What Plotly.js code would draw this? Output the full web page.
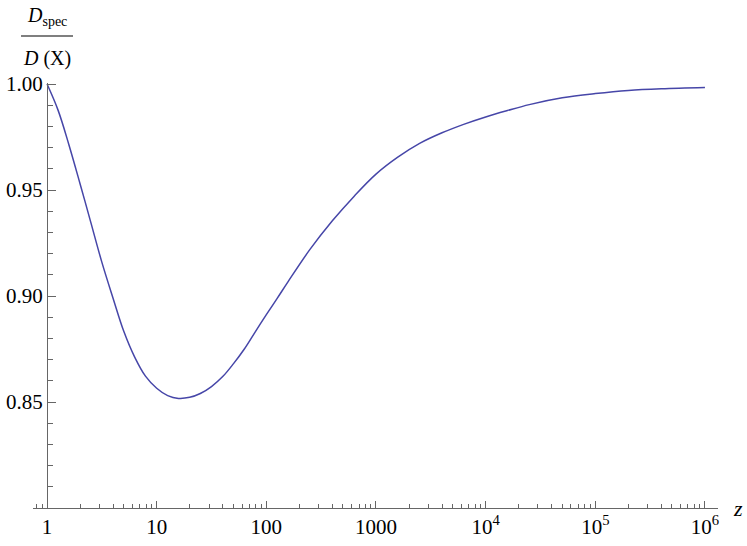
<!DOCTYPE html>
<html>
<head>
<meta charset="utf-8">
<script src="https://cdn.plot.ly/plotly-3.0.1.min.js"></script>
<style>
  body { margin: 0; background: #fff; }
  #fig { width: 747px; height: 546px; }
</style>
</head>
<body>
<div id="fig"></div>
<script>
// values
var zVals = [1, 1.26, 1.58, 2, 2.5, 3.16, 4, 5, 6.3, 7.9, 10, 12.6, 15.8, 20, 25, 31.6, 40, 50, 63, 79,
             100, 126, 158, 250, 400, 630, 1000, 1580, 2500, 4000, 6300, 1e4, 15800, 25000, 50000,
             1e5, 2e5, 4e5, 1e6];
var ratio = [1.000, 0.9877, 0.9715, 0.953, 0.935, 0.916, 0.899, 0.8835, 0.8712, 0.8622, 0.8565, 0.8530,
             0.8517, 0.8522, 0.8540, 0.8573, 0.8620, 0.8680, 0.8750, 0.8830,
             0.8912, 0.8990, 0.9068, 0.922, 0.9355, 0.947, 0.9575, 0.9655, 0.972, 0.977, 0.981, 0.9845,
             0.9875, 0.9903, 0.9935, 0.9955, 0.9970, 0.9978, 0.9984];
var xTickVals = [1, 10, 100, 1000, 1e4, 1e5, 1e6];
var xTickText = ['1', '10', '100', '1000', '10<sup>4</sup>', '10<sup>5</sup>', '10<sup>6</sup>'];
var yTickVals = [0.85, 0.90, 0.95, 1.00];
var yTickText = ['0.85', '0.90', '0.95', '1.00'];

var serif = 'Liberation Serif';
var axisCol = '#666666';

var curve = { x: zVals, y: ratio, mode: 'lines', line: { color: '#4646a8', width: 1.5, shape: 'spline', smoothing: 1 }, hoverinfo: 'none' };

var layout = {
  width: 747, height: 546,
  margin: { l: 33, r: 29, t: 83, b: 38 },
  paper_bgcolor: '#fff', plot_bgcolor: '#fff',
  showlegend: false,
  font: { family: serif, size: 21, color: '#000' },
  xaxis: {
    type: 'log',
    range: [-0.128, 6.119],
    showgrid: false, zeroline: false,
    showline: true, linecolor: axisCol, linewidth: 1,
    ticks: 'inside', ticklen: 7, tickcolor: axisCol, tickwidth: 1,
    tickvals: xTickVals, ticktext: xTickText,
    tickfont: { family: serif, size: 21, color: '#000' },
    minor: { dtick: 'D1', ticks: 'inside', ticklen: 4, tickcolor: axisCol, showgrid: false }
  },
  yaxis: {
    range: [0.80, 1.0005],
    anchor: 'free', position: 0.0204,
    showgrid: false, zeroline: false,
    showline: true, linecolor: axisCol, linewidth: 1,
    ticks: 'inside', ticklen: 8, tickcolor: axisCol, tickwidth: 1,
    tickvals: yTickVals, ticktext: yTickText,
    tickfont: { family: serif, size: 21, color: '#000' },
    minor: { dtick: 0.01, ticks: 'inside', ticklen: 5, tickcolor: axisCol, showgrid: false }
  },
  shapes: [
    { type: 'line', xref: 'paper', yref: 'paper', x0: -0.0175, x1: 0.0584, y0: 1.1106, y1: 1.1106,
      line: { color: '#000', width: 1.2 } }
  ],
  annotations: [
    { xref: 'paper', yref: 'paper', x: 0.0204, y: 1.1576, text: '<i>D</i><sub>spec</sub>', showarrow: false,
      xanchor: 'center', yanchor: 'middle', font: { family: serif, size: 20, color: '#000' } },
    { xref: 'paper', yref: 'paper', x: 0.0204, y: 1.0565, text: '<i>D</i> (X)', showarrow: false,
      xanchor: 'center', yanchor: 'middle', font: { family: serif, size: 20, color: '#000' } },
    { xref: 'paper', yref: 'paper', x: 1.029, y: 0.0, text: '<i>z</i>', showarrow: false,
      xanchor: 'center', yanchor: 'middle', font: { family: serif, size: 22, color: '#000' } }
  ]
};

Plotly.newPlot('fig', [curve], layout, { displayModeBar: false, staticPlot: true });
</script>
</body>
</html>
